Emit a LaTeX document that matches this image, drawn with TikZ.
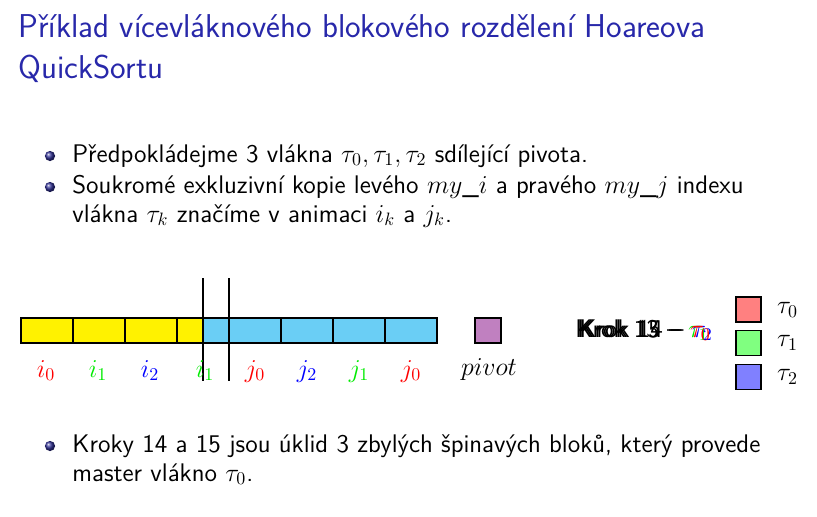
\documentclass[tikz,border=0pt]{standalone}
\usepackage{fontspec}
\usepackage{tikz}
\usetikzlibrary{positioning}
\definecolor{TitleBlue}{RGB}{40,40,170}
\definecolor{BallBlue}{RGB}{50,50,150}
\definecolor{CellYellow}{RGB}{255,242,0}
\definecolor{CellBlue}{RGB}{106,206,245}
\definecolor{PivotViolet}{RGB}{192,128,192}
\definecolor{ThrRed}{RGB}{255,128,128}
\definecolor{ThrGreen}{RGB}{128,255,128}
\definecolor{ThrBlue}{RGB}{128,128,255}
\definecolor{LblGreen}{RGB}{0,235,0}

\begin{document}
\begin{tikzpicture}[
  x=0.19584mm,y=-0.19584mm,
  txt/.style={anchor=base west,inner sep=0pt,font=\fontsize{14.2pt}{17pt}\selectfont\sffamily},
  ttl/.style={anchor=base west,inner sep=0pt,text=TitleBlue,font=\fontsize{18.4pt}{22pt}\selectfont\sffamily},
  ballbul/.style={circle,inner sep=0pt,minimum size=2mm,shading=ball,ball color=BallBlue},
  cell/.style={draw=black,line width=0.8pt,outer sep=0pt,inner sep=0pt,minimum height=4.9mm},
  wide/.style={cell,minimum width=10.18mm},
  narrow/.style={cell,minimum width=5.09mm},
  lbl/.style={anchor=base,inner sep=0pt,font=\fontsize{14pt}{17pt}\selectfont},
  key/.style={draw=black,line width=0.6pt,inner sep=0pt,minimum size=4.9mm},
  bar/.style={line width=0.8pt,black},
]
\useasboundingbox (0,0) rectangle (817,516);
% title
\node[ttl] (title1) at (18,37) {Příklad vícevláknového blokového rozdělení Hoareova};
\node[ttl] (title2) at (18,78) {QuickSortu};
% first bullets
\node[ballbul] (ball1) at (50,156) {};
\node[txt] (item1) at (72,162)
  {Předpokládejme 3 vlákna $\tau_0,\tau_1,\tau_2$ sdílející pivota.};
\node[ballbul] (ball2) at (50,187) {};
\node[txt] (item2) at (72,193)
  {Soukromé exkluzivní kopie levého $my\_i$ a pravého $my\_j$ indexu};
\node[txt] (item2b) at (72,222)
  {vlákna $\tau_k$ značíme v animaci $i_k$ a $j_k$.};
% array of blocks
\node[wide,fill=CellYellow,anchor=west] (y1) at (21,330.5) {};
\node[wide,fill=CellYellow,right=0pt of y1] (y2) {};
\node[wide,fill=CellYellow,right=0pt of y2] (y3) {};
\node[narrow,fill=CellYellow,right=0pt of y3] (y4) {};
\node[narrow,fill=CellBlue,right=0pt of y4] (b1) {};
\node[wide,fill=CellBlue,right=0pt of b1] (b2) {};
\node[wide,fill=CellBlue,right=0pt of b2] (b3) {};
\node[wide,fill=CellBlue,right=0pt of b3] (b4) {};
\node[wide,fill=CellBlue,right=0pt of b4] (b5) {};
\node[narrow,fill=PivotViolet,anchor=west] (piv) at (475,330.5) {};
% thread borders
\coordinate (cutAtop) at (203,278);
\coordinate (cutAbot) at (203,381);
\coordinate (cutBtop) at (229,278);
\coordinate (cutBbot) at (229,381);
\draw[bar] (cutAtop) -- (cutAbot);
\draw[bar] (cutBtop) -- (cutBbot);
% index labels
\node[lbl,text=red] (li0) at (46,377) {$i_0$};
\node[lbl,text=LblGreen] (li1) at (98,377) {$i_1$};
\node[lbl,text=blue] (li2) at (150,377) {$i_2$};
\node[lbl,text=LblGreen] (li1b) at (205,377) {$i_1$};
\node[lbl,text=red] (lj0) at (255,377) {$j_0$};
\node[lbl,text=blue] (lj2) at (307,377) {$j_2$};
\node[lbl,text=LblGreen] (lj1) at (359,377) {$j_1$};
\node[lbl,text=red] (lj0b) at (411,377) {$j_0$};
\node[lbl] (lpiv) at (489,375) {$pivot$};
% step caption (overlaid animation frames)
\node[txt] (step13) at (575,337) {Krok 13 -- {\color{LblGreen}$\tau_1$}};
\node[txt] (step14) at (579,337) {Krok 14 -- {\color{blue}$\tau_2$}};
\node[txt] (step15) at (577,337) {Krok 15 -- {\color{red}$\tau_0$}};
% legend
\node[key,fill=ThrRed] (k0) at (748.5,309.5) {};
\node[key,fill=ThrGreen,below=1.5mm of k0] (k1) {};
\node[key,fill=ThrBlue,below=1.5mm of k1] (k2) {};
\node[lbl,anchor=west,right=3mm of k0] (t0) {$\tau_0$};
\node[lbl,anchor=west,right=3mm of k1] (t1) {$\tau_1$};
\node[lbl,anchor=west,right=3mm of k2] (t2) {$\tau_2$};
% last bullet
\node[ballbul] (ball3) at (50,446) {};
\node[txt] (item3) at (72,452)
  {Kroky 14 a 15 jsou úklid 3 zbylých špinavých bloků, který provede};
\node[txt] (item3b) at (72,481) {master vlákno $\tau_0$.};
\end{tikzpicture}
\end{document}
